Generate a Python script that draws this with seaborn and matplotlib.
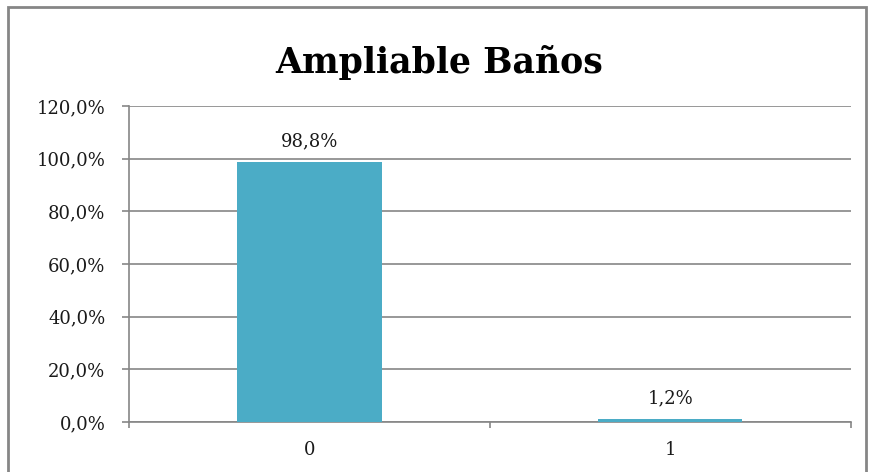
import matplotlib
matplotlib.use("Agg")
import matplotlib.pyplot as plt
import seaborn as sns
import pandas as pd
from matplotlib.patches import Rectangle

# datos
categorias = ["0", "1"]
porcentajes = [98.8, 1.2]
etiquetas = ["98,8%", "1,2%"]
ticks_y = [0, 20, 40, 60, 80, 100, 120]
ticks_y_txt = ["0,0%", "20,0%", "40,0%", "60,0%", "80,0%", "100,0%", "120,0%"]

df = pd.DataFrame({"cat": categorias, "pct": porcentajes})

sns.set_style("white")
plt.rcParams["font.family"] = ["DejaVu Serif"]

fig = plt.figure(figsize=(8.7, 4.72), dpi=100)
ax = fig.add_axes([0.1483, 0.1059, 0.8295, 0.6695])

sns.barplot(data=df, x="cat", y="pct", color="#4BACC6", width=0.4,
            saturation=1, linewidth=0, ax=ax, zorder=3)

ax.set_ylim(0, 120)
ax.set_xlim(-0.5, 1.5)
ax.set_yticks(ticks_y)
ax.set_yticklabels(ticks_y_txt, fontsize=13, color="#1a1a1a")
ax.yaxis.grid(True, color="#868686", linewidth=1.2, zorder=0)
ax.tick_params(axis="y", length=5, width=1.2, color="#868686", pad=12, left=True)
ax.tick_params(axis="x", which="major", length=0, labelsize=13, pad=14, labelcolor="#1a1a1a")
ax.set_xticks([-0.5, 0.5, 1.5], minor=True)
ax.tick_params(axis="x", which="minor", length=4.5, width=1.2, color="#868686", bottom=True)
ax.set_xlabel("")
ax.set_ylabel("")

for s in ["top", "right"]:
    ax.spines[s].set_visible(False)
for s in ["left", "bottom"]:
    ax.spines[s].set_color("#868686")
    ax.spines[s].set_linewidth(1.2)

# etiquetas de datos
for i, (v, t) in enumerate(zip(porcentajes, etiquetas)):
    ax.annotate(t, (i, v), xytext=(0, 11.5), textcoords="offset points",
                ha="center", va="baseline", fontsize=13, color="#1a1a1a")

fig.text(0.5046, 0.846, "Ampliable Baños", ha="center", va="baseline",
         fontsize=25, fontweight="bold", color="black")

# marco del grafico
fig.patches.append(Rectangle((8 / 870, -0.05), 858 / 870, 1 - 7 / 472 + 0.05,
                             transform=fig.transFigure, fill=False,
                             edgecolor="#868686", linewidth=2))

fig.savefig("out.png", dpi=100)
